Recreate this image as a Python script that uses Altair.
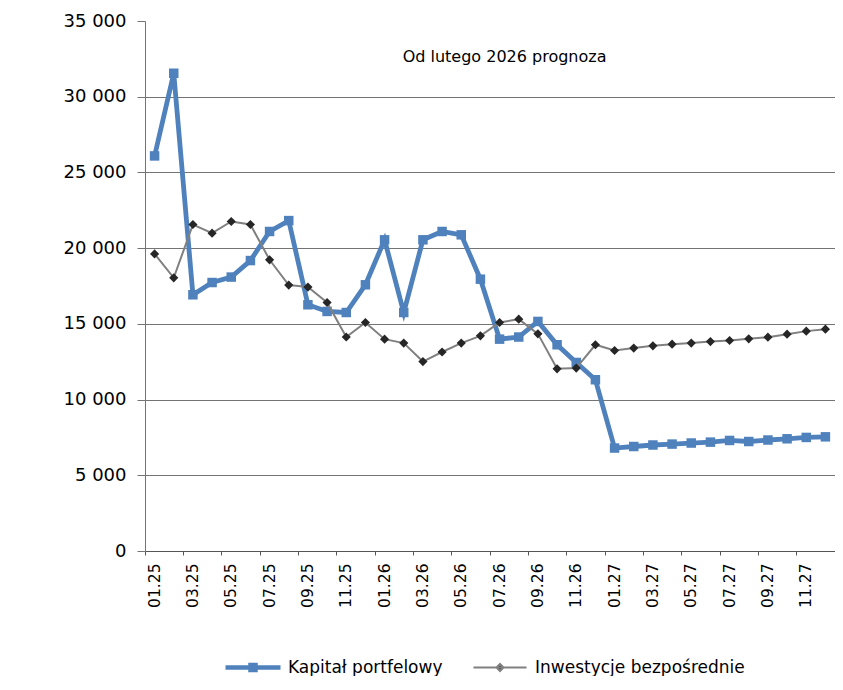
import altair as alt
import pandas as pd

months = ["01.25", "02.25", "03.25", "04.25", "05.25", "06.25", "07.25", "08.25", "09.25", "10.25", "11.25", "12.25",
          "01.26", "02.26", "03.26", "04.26", "05.26", "06.26", "07.26", "08.26", "09.26", "10.26", "11.26", "12.26",
          "01.27", "02.27", "03.27", "04.27", "05.27", "06.27", "07.27", "08.27", "09.27", "10.27", "11.27", "12.27"]

kapital = [26090, 31550, 16920, 17730, 18090, 19180, 21100, 21820, 16260, 15820, 15750, 17580,
           20550, 15750, 20550, 21100, 20880, 17950, 13990, 14130, 15160, 13620, 12450, 11310,
           6800, 6900, 7000, 7060, 7130, 7190, 7300, 7230, 7330, 7410, 7500, 7540]

inwestycje = [19620, 18040, 21560, 20990, 21760, 21560, 19230, 17560, 17430, 16410, 14130, 15090,
              13990, 13730, 12510, 13140, 13730, 14210, 15090, 15310, 14340, 12030, 12080, 13620,
              13240, 13400, 13550, 13660, 13730, 13830, 13900, 14010, 14120, 14320, 14520, 14650]

K = "Kapitał portfelowy"
I = "Inwestycje bezpośrednie"
label_months = months[::2]
y_ticks = [0, 5000, 10000, 15000, 20000, 25000, 30000, 35000]
note_text = ["Od lutego 2026 prognoza"]
note_month = ["07.26"]
note_value = [32600]

FONT = "DejaVu Sans"
BLUE = "#4F81BD"
GRAY = "#808080"
DARK = "#262626"
GRID = "#747474"

df = pd.DataFrame({
    "month": months * 2,
    "series": [K] * len(months) + [I] * len(months),
    "value": kapital + inwestycje,
})
note_df = pd.DataFrame({"month": note_month, "value": note_value, "text": note_text})

x_scale = alt.Scale(type="band", domain=months, paddingInner=0, paddingOuter=0)
y_scale = alt.Scale(domain=[0, 35000], nice=False, zero=True)

x_axis = alt.Axis(values=label_months, bandPosition=0, labelAngle=-90, labelFontSize=15.5, labelFont=FONT,
                  labelColor="#000000", labelPadding=8, tickSize=4, tickColor="#555555",
                  domainColor="#555555", grid=False, title=None, labelOverlap=False, labelFlush=False)
y_axis = alt.Axis(values=y_ticks, labelExpr="replace(format(datum.value, ','), ',', ' ')",
                  labelFontSize=18, labelFont=FONT, labelColor="#000000", labelPadding=11, tickSize=8,
                  tickColor=GRID, domainColor=GRID, gridColor=GRID,
                  gridOpacity=alt.condition("datum.value == 35000 || datum.value == 0", alt.value(0), alt.value(1)),
                  title=None)

x_enc = alt.X("month:O", sort=months, scale=x_scale, axis=x_axis, bandPosition=0.5)
y_enc = alt.Y("value:Q", scale=y_scale, axis=y_axis)

legend_k = alt.Legend(
    title=None, orient="none", legendX=99.5, legendY=638, padding=0, labelLimit=400,
    symbolSize=100, labelOffset=26.5, labelFontSize=17, labelFont=FONT, labelColor="#000000",
    symbolType="M-5.5,0H5.5M-0.5,-0.5H0.5V0.5H-0.5Z",
    symbolFillColor=BLUE, symbolStrokeWidth=4.5, symbolOpacity=1,
)
legend_i = alt.Legend(
    title=None, orient="none", legendX=346.5, legendY=638, padding=0, labelLimit=400,
    symbolSize=100, labelOffset=26.5, labelFontSize=17, labelFont=FONT, labelColor="#000000",
    symbolType="M-5.3,0H5.3M0,-0.7L0.7,0L0,0.7L-0.7,0Z",
    symbolFillColor=DARK, symbolStrokeWidth=2, symbolOpacity=1,
)

base = alt.Chart(df)

blue_line = base.transform_filter(alt.datum.series == K).mark_line(strokeWidth=4.8).encode(
    x=x_enc, y=y_enc,
    color=alt.Color("series:N", scale=alt.Scale(domain=[K], range=[BLUE]), legend=legend_k))
blue_pts = base.transform_filter(alt.datum.series == K).mark_point(
    shape="square", filled=True, size=90, color=BLUE, opacity=1).encode(x=x_enc, y=y_enc)
gray_line = base.transform_filter(alt.datum.series == I).mark_line(strokeWidth=2).encode(
    x=x_enc, y=y_enc,
    stroke=alt.Stroke("series:N", scale=alt.Scale(domain=[I], range=[GRAY]), legend=legend_i))
black_pts = base.transform_filter(alt.datum.series == I).mark_point(
    shape="diamond", filled=True, size=84, color=DARK, opacity=1).encode(x=x_enc, y=y_enc)
note = alt.Chart(note_df).mark_text(fontSize=16, font=FONT, color="#000000", align="center",
                                    baseline="middle", dx=5).encode(x=x_enc, y=y_enc, text="text:N")

chart = alt.layer(blue_line, blue_pts, gray_line, black_pts, note).properties(
    width=690, height=530,
    padding={"left": 137, "top": 13, "right": 0, "bottom": 125},
    autosize=alt.AutoSizeParams(type="none"),
).configure(font=FONT, background="white").configure_view(stroke=None)

chart.save("out.html", embed_options={"renderer": "svg", "actions": False})
